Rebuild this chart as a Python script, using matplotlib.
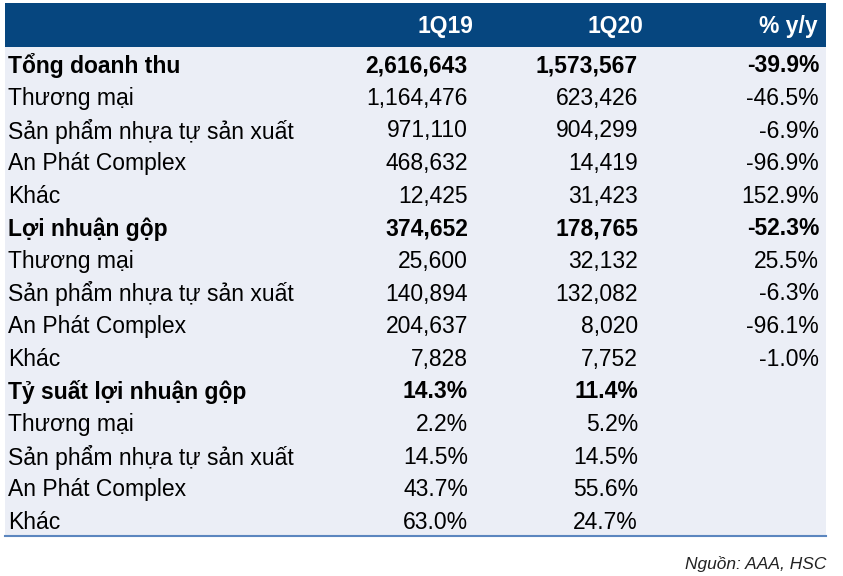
import matplotlib
matplotlib.use("Agg")
import matplotlib.pyplot as plt
from matplotlib.patches import Rectangle

plt.rcParams['font.family'] = ['Liberation Sans', 'DejaVu Sans']

# table data
headers = ["1Q19", "1Q20", "% y/y"]
row_labels = [
    "Tổng doanh thu", "Thương mại", "Sản phẩm nhựa tự sản xuất", "An Phát Complex", "Khác",
    "Lợi nhuận gộp", "Thương mại", "Sản phẩm nhựa tự sản xuất", "An Phát Complex", "Khác",
    "Tỷ suất lợi nhuận gộp", "Thương mại", "Sản phẩm nhựa tự sản xuất", "An Phát Complex", "Khác",
]
col_1q19 = ["2,616,643", "1,164,476", "971,110", "468,632", "12,425",
            "374,652", "25,600", "140,894", "204,637", "7,828",
            "14.3%", "2.2%", "14.5%", "43.7%", "63.0%"]
col_1q20 = ["1,573,567", "623,426", "904,299", "14,419", "31,423",
            "178,765", "32,132", "132,082", "8,020", "7,752",
            "11.4%", "5.2%", "14.5%", "55.6%", "24.7%"]
col_yoy = ["-39.9%", "-46.5%", "-6.9%", "-96.9%", "152.9%",
           "-52.3%", "25.5%", "-6.3%", "-96.1%", "-1.0%",
           "", "", "", "", ""]
bold_rows = [0, 5, 10]
source = "Nguồn: AAA, HSC"

W, H = 843, 576
fig = plt.figure(figsize=(W / 100, H / 100), dpi=100)
ax = fig.add_axes([0, 0, 1, 1])
ax.set_xlim(0, W)
ax.set_ylim(H, 0)
ax.axis('off')

left, right = 5, 826
head_top, head_bot = 3, 47
row_h = 32.6
body_bot = head_bot + row_h * len(row_labels)

ax.add_patch(Rectangle((left, head_top), right - left, head_bot - head_top,
                       facecolor='#06467F', edgecolor='none'))
ax.add_patch(Rectangle((left, head_bot), right - left, body_bot - head_bot,
                       facecolor='#EBEEF6', edgecolor='none'))
ax.plot([left, right], [body_bot, body_bot], color='#5B86BF', lw=1.5)

col_x = [468, 638, 819]
fs = 16.5
for x, h in zip(col_x, headers):
    ax.text(x + 5 if h != "% y/y" else x - 1, (head_top + head_bot) / 2 + 2, h,
            ha='right', va='center', color='white', fontsize=fs, fontweight='bold')

for i, lab in enumerate(row_labels):
    y = head_bot + row_h * (i + 0.5) + 2.5
    w = 'bold' if i in bold_rows else 'normal'
    ax.text(8, y, lab, ha='left', va='center', fontsize=fs, fontweight=w, color='black')
    for x, col in zip(col_x, [col_1q19, col_1q20, col_yoy]):
        if col[i]:
            ax.text(x, y, col[i], ha='right', va='center', fontsize=fs, fontweight=w, color='black')

ax.text(826, 564, source, ha='right', va='center', fontsize=12.5, style='italic', color='#222222')

fig.savefig("out.png", dpi=100)
